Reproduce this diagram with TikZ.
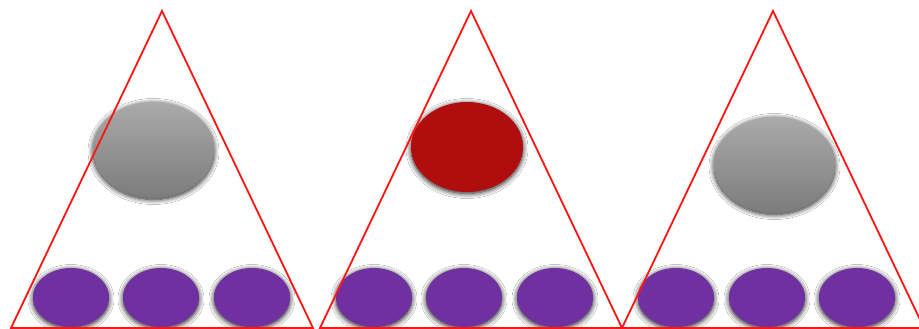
\documentclass[tikz,border=0pt]{standalone}
\usepackage{tikz}
\usetikzlibrary{shapes.geometric,shadows.blur}
\definecolor{ballpurple}{RGB}{112,48,160}
\definecolor{ballred}{RGB}{176,14,14}
\definecolor{greytop}{RGB}{170,170,170}
\definecolor{greybot}{RGB}{124,124,124}
\definecolor{triline}{RGB}{255,20,20}
\tikzset{
  sh/.style={blur shadow={shadow xshift=0pt, shadow yshift=-1.5pt,
             shadow blur radius=5pt, shadow opacity=90, shadow blur steps=10}},
  pb/.style={ellipse, inner sep=0pt, minimum width=76pt, minimum height=59pt,
             fill=ballpurple, sh},
  gb/.style={ellipse, inner sep=0pt, minimum width=121pt, minimum height=96pt,
             top color=greytop, bottom color=greybot, sh},
  rb/.style={ellipse, inner sep=0pt, minimum width=112pt, minimum height=90pt,
             fill=ballred, sh},
  tri/.style={draw=triline, line width=1.8pt}
}
\begin{document}
\begin{tikzpicture}[x=1pt,y=-1pt]
  \useasboundingbox (0,0) rectangle (919,329);
  \fill[white] (0,0) rectangle (919,329);
  % bottom row
  \foreach \x [count=\i] in {71,161,252,374,464,555,676,767,857}
    \node[pb] (p\i) at (\x,297.5) {};
  % top balls
  \node[gb] (g1) at (153.5,150) {};
  \node[rb] (r2) at (467,147) {};
  \node[gb] (g3) at (774.5,165) {};
  % triangles
  \foreach \c [count=\i] in {162,471,773} {
    \coordinate (a\i) at (\c,11);
    \coordinate (l\i) at (\c-151,328);
    \coordinate (r\i) at (\c+151,328);
    \draw[tri] (a\i) -- (l\i) -- (r\i) -- cycle;
  }
\end{tikzpicture}
\end{document}
